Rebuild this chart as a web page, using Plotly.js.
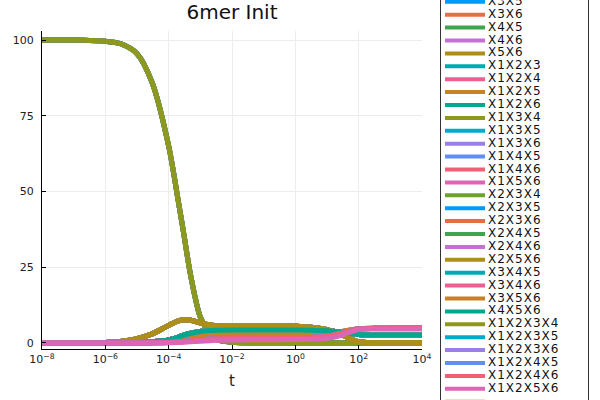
<!DOCTYPE html>
<html>
<head>
<meta charset="utf-8">
<script src="https://cdn.plot.ly/plotly-3.0.1.min.js"></script>
<style>
  html, body { margin: 0; padding: 0; background: #fff; }
  #chart { width: 600px; height: 400px; }
  /* legend labels in the reference are drawn a little wide */
  #chart .textpoint text { letter-spacing: 1px; }
</style>
</head>
<body>
<div id="chart"></div>
<script>
// time points (log spaced)
let tValues = [1e-8, 1e-7, 1e-6, 3e-6, 1e-5, 3e-5, 1e-4, 2e-4, 3e-4, 5e-4, 1e-3, 2e-3, 3e-3,
    1e-2, 1e-1, 1e0, 3e0, 1e1, 3e1, 1e2, 3e2, 1e3, 1e4];

// concentration curves (many species sit on top of each other)
let decayCurve = [100, 100, 99.6, 98.8, 95.5, 86, 65, 47, 36, 22, 8.5, 3, 1.2,
    0.2, 0, 0, 0, 0, 0, 0, 0, 0, 0];
let bumpCurve = [0, 0.02, 0.15, 0.5, 1.4, 3.0, 5.8, 7.3, 7.6, 7.5, 6.6, 5.9, 5.7,
    5.6, 5.6, 5.5, 5.2, 4.4, 2.6, 0.4, 0.05, 0, 0];
let trimerCurve = [0, 0, 0.02, 0.05, 0.15, 0.4, 1.0, 1.9, 2.6, 3.2, 3.8, 4.1, 4.2,
    4.3, 4.3, 4.3, 4.2, 4.0, 3.5, 2.8, 2.6, 2.6, 2.6];
let tetramerCurve = [0, 0, 0, 0.01, 0.03, 0.1, 0.3, 0.6, 0.9, 1.4, 2.0, 2.5, 2.7,
    3.0, 3.0, 3.0, 3.0, 3.2, 3.8, 4.7, 4.9, 5.0, 5.0];
let pentamerCurve = [0, 0, 0, 0, 0.01, 0.04, 0.15, 0.3, 0.45, 0.7, 1.0, 1.3, 1.4,
    1.6, 1.7, 1.7, 1.8, 2.2, 3.2, 4.6, 4.8, 4.8, 4.8];
let hexamerCurve = [0, 0, 0, 0, 0, 0.01, 0.05, 0.12, 0.2, 0.35, 0.55, 0.75, 0.85,
    1.0, 1.05, 1.1, 1.2, 1.5, 2.6, 4.4, 4.6, 4.6, 4.6];

let speciesNames = [
    'X1', 'X2', 'X3', 'X4', 'X5', 'X6',
    'X1X2', 'X1X3', 'X1X4', 'X1X5', 'X1X6', 'X2X3', 'X2X4', 'X2X5', 'X2X6', 'X3X4',
    'X3X5', 'X3X6', 'X4X5', 'X4X6', 'X5X6',
    'X1X2X3', 'X1X2X4', 'X1X2X5', 'X1X2X6', 'X1X3X4', 'X1X3X5', 'X1X3X6', 'X1X4X5',
    'X1X4X6', 'X1X5X6', 'X2X3X4', 'X2X3X5', 'X2X3X6', 'X2X4X5', 'X2X4X6', 'X2X5X6',
    'X3X4X5', 'X3X4X6', 'X3X5X6', 'X4X5X6',
    'X1X2X3X4', 'X1X2X3X5', 'X1X2X3X6', 'X1X2X4X5', 'X1X2X4X6', 'X1X2X5X6', 'X1X3X4X5',
    'X1X3X4X6', 'X1X3X5X6', 'X1X4X5X6', 'X2X3X4X5', 'X2X3X4X6', 'X2X3X5X6', 'X2X4X5X6',
    'X3X4X5X6',
    'X1X2X3X4X5', 'X1X2X3X4X6', 'X1X2X3X5X6', 'X1X2X4X5X6', 'X1X3X4X5X6', 'X2X3X4X5X6',
    'X1X2X3X4X5X6'
];

// which curve each species follows
let speciesCurve = [
    'decay', 'decay', 'decay', 'decay', 'decay', 'decay',
    'bump', 'bump', 'bump', 'bump', 'bump', 'bump', 'bump', 'bump', 'bump', 'bump',
    'bump', 'bump', 'bump', 'bump', 'bump',
    'trimer', 'trimer', 'trimer', 'trimer', 'trimer', 'trimer', 'trimer', 'trimer',
    'trimer', 'trimer', 'trimer', 'trimer', 'trimer', 'trimer', 'trimer', 'trimer',
    'trimer', 'trimer', 'trimer', 'trimer',
    'decay', 'trimer', 'trimer', 'trimer', 'trimer', 'trimer', 'trimer',
    'trimer', 'trimer', 'trimer', 'trimer', 'bump', 'tetramer', 'tetramer',
    'tetramer',
    'trimer', 'pentamer', 'pentamer', 'pentamer', 'pentamer', 'pentamer',
    'hexamer'
];

let xTickVals = [1e-8, 1e-6, 1e-4, 1e-2, 1e0, 1e2, 1e4];
let xTickText = ['10<sup>\u22128</sup>', '10<sup>\u22126</sup>', '10<sup>\u22124</sup>',
    '10<sup>\u22122</sup>', '10<sup>0</sup>', '10<sup>2</sup>', '10<sup>4</sup>'];
let yTickVals = [0, 25, 50, 75, 100];

let palette = ['#009AFA', '#E36F47', '#3EA44E', '#C371D2', '#AC8E18', '#00AAAE', '#ED5E93',
    '#C68225', '#00A98D', '#8E971E', '#00A9CD', '#9B7FE9', '#618DF6', '#F05F73',
    '#DD65B6', '#6CA32E'];

let curveTable = {
    decay: decayCurve,
    bump: bumpCurve,
    trimer: trimerCurve,
    tetramer: tetramerCurve,
    pentamer: pentamerCurve,
    hexamer: hexamerCurve
};

let font = 'DejaVu Sans, Verdana, sans-serif';

let makeTraces = function () {
    let traces = [];
    for (let i = 0; i < speciesNames.length; i++) {
        traces.push({
            x: tValues,
            y: curveTable[speciesCurve[i]],
            name: speciesNames[i],
            type: 'scatter',
            mode: 'lines',
            line: { color: palette[i % palette.length], width: 5, shape: 'spline', smoothing: 0.8 },
            xaxis: 'x',
            yaxis: 'y',
            showlegend: false,
            hoverinfo: 'skip'
        });
    }
    // hand drawn legend in its own subplot, one row per species
    for (let i = 0; i < speciesNames.length; i++) {
        traces.push({
            x: [4, 44],
            y: [i, i],
            type: 'scatter',
            mode: 'lines',
            line: { color: palette[i % palette.length], width: 4 },
            xaxis: 'x2',
            yaxis: 'y2',
            showlegend: false,
            hoverinfo: 'skip'
        });
    }
    traces.push({
        x: speciesNames.map(() => 47),
        y: speciesNames.map((n, i) => i),
        text: speciesNames,
        type: 'scatter',
        mode: 'text',
        textposition: 'middle right',
        textfont: { family: font, size: 12, color: '#111' },
        xaxis: 'x2',
        yaxis: 'y2',
        cliponaxis: false,
        showlegend: false,
        hoverinfo: 'skip'
    });
    return traces;
}

let layout = {
    width: 600,
    height: 400,
    autosize: false,
    margin: { l: 0, r: 0, t: 0, b: 0, pad: 0 },
    paper_bgcolor: '#fff',
    plot_bgcolor: '#fff',
    font: { family: font, size: 11, color: '#222' },
    hovermode: false,
    title: {
        text: '6mer Init',
        x: 232 / 600,
        xanchor: 'center',
        y: 1 - 12 / 400,
        yanchor: 'middle',
        font: { family: font, size: 20, color: '#111' }
    },
    xaxis: {
        type: 'log',
        domain: [42 / 600, 422 / 600],
        range: [-8, 4],
        anchor: 'y',
        tickvals: xTickVals,
        ticktext: xTickText,
        ticks: 'inside',
        ticklen: 4,
        tickcolor: '#000',
        showline: true,
        linecolor: '#000',
        linewidth: 1,
        showgrid: true,
        gridcolor: '#ececec',
        gridwidth: 1,
        zeroline: false,
        tickfont: { family: font, size: 11, color: '#222' },
        title: { text: 't', font: { family: font, size: 15, color: '#222' }, standoff: 10 }
    },
    yaxis: {
        domain: [51 / 400, 369 / 400],
        range: [-2, 103],
        anchor: 'x',
        tickvals: yTickVals,
        ticks: 'inside',
        ticklen: 4,
        tickcolor: '#000',
        showline: true,
        linecolor: '#000',
        linewidth: 1,
        showgrid: true,
        gridcolor: '#ececec',
        gridwidth: 1,
        zeroline: false,
        ticklabelstandoff: 5,
        tickfont: { family: font, size: 11, color: '#222' }
    },
    xaxis2: {
        domain: [441 / 600, 588 / 600],
        range: [0, 147],
        anchor: 'y2',
        visible: false,
        fixedrange: true
    },
    yaxis2: {
        domain: [0, 1],
        range: [16 + 398.2 / 12.9, 16 - 1.8 / 12.9],
        anchor: 'x2',
        showline: true,
        mirror: true,
        linecolor: '#333',
        linewidth: 1,
        showgrid: false,
        zeroline: false,
        showticklabels: false,
        ticks: '',
        fixedrange: true
    }
};

Plotly.newPlot('chart', makeTraces(), layout, { staticPlot: true, displayModeBar: false });
</script>
</body>
</html>
